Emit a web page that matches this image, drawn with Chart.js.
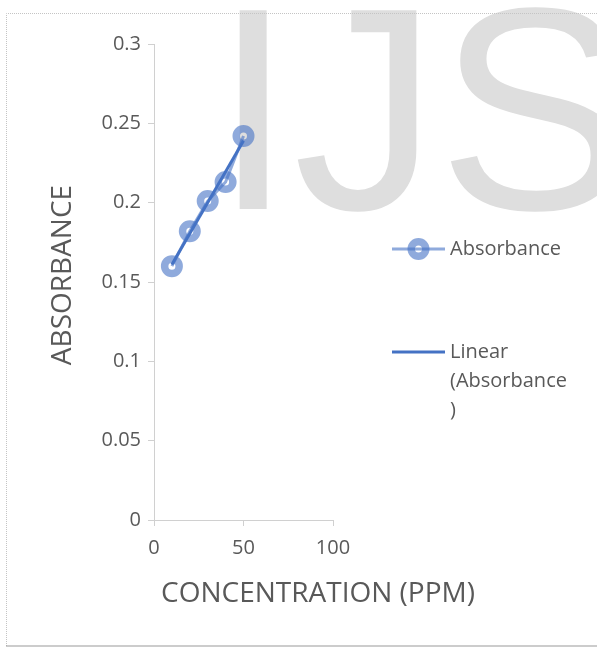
<!DOCTYPE html>
<html>
<head>
<meta charset="utf-8">
<script src="https://cdn.jsdelivr.net/npm/chart.js@4/dist/chart.umd.min.js"></script>
<style>
  html, body { margin: 0; padding: 0; background: #ffffff; }
  #wrap { width: 597px; height: 648px; position: relative; }
</style>
</head>
<body>
<div id="wrap"><canvas id="absorbance-chart" width="597" height="648"></canvas></div>
<script>
const concentration = [10, 20, 30, 40, 50];
const absorbance = [0.160, 0.182, 0.201, 0.213, 0.242];
const trendX = [10, 50];
const trendY = [0.161, 0.239];
const xTicks = [0, 50, 100];
const yTicks = [0, 0.05, 0.1, 0.15, 0.2, 0.25, 0.3];
const seriesName = 'Absorbance';
const trendName = 'Linear (Absorbance)';
const xTitle = 'CONCENTRATION (PPM)';
const yTitle = 'ABSORBANCE';
const watermark = 'IJS';

const textColor = '#595959';
const axisColor = '#d0d0d0';
const pointColor = 'rgba(68, 114, 196, 0.6)';
const trendColor = '#4472C4';
const fontName = '"Open Sans", sans-serif';

function toPoints(xs, ys) {
    return xs.map((x, i) => ({ x: x, y: ys[i] }));
}

// wrap legend text the way the original does (words first, then characters)
function wrapText(ctx, text, maxWidth) {
    const lines = [];
    let current = '';
    text.split(' ').forEach(word => {
        const test = current ? current + ' ' + word : word;
        if (ctx.measureText(test).width <= maxWidth) {
            current = test;
            return;
        }
        if (current) lines.push(current);
        current = '';
        for (const ch of word) {
            if (ctx.measureText(current + ch).width > maxWidth && current) {
                lines.push(current);
                current = ch;
            } else {
                current += ch;
            }
        }
    });
    if (current) lines.push(current);
    return lines;
}

const decorPlugin = {
    id: 'decor',
    beforeDraw(chart) {
        const ctx = chart.ctx;
        ctx.save();
        ctx.fillStyle = '#ffffff';
        ctx.fillRect(0, 0, chart.width, chart.height);
        // background watermark
        ctx.fillStyle = '#dedede';
        ctx.font = '289px "Liberation Sans", Arial, sans-serif';
        ctx.textBaseline = 'alphabetic';
        ctx.textAlign = 'left';
        ctx.fillText(watermark, 213, 209);
        ctx.restore();
    },
    afterDraw(chart) {
        const ctx = chart.ctx;
        ctx.save();

        // dotted frame
        ctx.lineWidth = 1;
        ctx.setLineDash([1, 1]);
        ctx.strokeStyle = '#c4c4c4';
        ctx.beginPath();
        ctx.moveTo(chart.width, 13.5);
        ctx.lineTo(6.5, 13.5);
        ctx.lineTo(6.5, 646);
        ctx.stroke();
        ctx.strokeStyle = '#9a9a9a';
        ctx.lineWidth = 2;
        ctx.beginPath();
        ctx.moveTo(6.5, 646);
        ctx.lineTo(chart.width, 646);
        ctx.stroke();
        ctx.setLineDash([]);

        // axis titles
        ctx.fillStyle = textColor;
        ctx.font = '28px ' + fontName;
        ctx.textAlign = 'center';
        ctx.textBaseline = 'middle';
        ctx.fillText(xTitle, 318, 594);
        ctx.save();
        ctx.translate(63, 275);
        ctx.rotate(-Math.PI / 2);
        ctx.fillText(yTitle, 0, 0);
        ctx.restore();

        // legend
        ctx.font = '20px ' + fontName;
        ctx.textAlign = 'left';
        const legendY = [249, 352];
        chart.data.datasets.forEach((ds, i) => {
            const y = legendY[i];
            ctx.strokeStyle = ds.borderColor;
            ctx.lineWidth = 3;
            ctx.beginPath();
            ctx.moveTo(392, y);
            ctx.lineTo(445, y);
            ctx.stroke();
            if (ds.pointRadius > 0) {
                ctx.strokeStyle = ds.pointBorderColor;
                ctx.lineWidth = ds.pointBorderWidth;
                ctx.beginPath();
                ctx.arc(418.5, y, ds.pointRadius, 0, Math.PI * 2);
                ctx.stroke();
            }
            ctx.fillStyle = textColor;
            wrapText(ctx, ds.label, 120).forEach((line, j) => {
                ctx.fillText(line, 450, y + j * 29);
            });
        });
        ctx.restore();
    }
};

new Chart(document.getElementById('absorbance-chart'), {
    type: 'scatter',
    data: {
        datasets: [
            {
                label: seriesName,
                data: toPoints(concentration, absorbance),
                showLine: true,
                borderColor: pointColor,
                borderWidth: 3,
                pointRadius: 7.25,
                pointBorderWidth: 7.5,
                pointBorderColor: pointColor,
                pointBackgroundColor: 'rgba(0,0,0,0)',
                order: 1
            },
            {
                label: trendName,
                data: toPoints(trendX, trendY),
                showLine: true,
                borderColor: trendColor,
                borderWidth: 3,
                pointRadius: 0,
                order: 0
            }
        ]
    },
    options: {
        responsive: false,
        animation: false,
        layout: { padding: { top: 44, right: 264, left: 0, bottom: 0 } },
        plugins: {
            legend: { display: false },
            tooltip: { enabled: false }
        },
        scales: {
            x: {
                type: 'linear',
                min: 0,
                max: 100,
                afterFit: scale => { scale.height = 128; },
                afterBuildTicks: scale => { scale.ticks = xTicks.map(v => ({ value: v })); },
                grid: { drawOnChartArea: false, tickLength: 6, color: axisColor },
                border: { color: axisColor },
                ticks: {
                    color: textColor,
                    font: { family: fontName, size: 20 },
                    padding: 10,
                    maxRotation: 0
                }
            },
            y: {
                type: 'linear',
                min: 0,
                max: 0.3,
                afterFit: scale => { scale.width = 154; },
                afterBuildTicks: scale => { scale.ticks = yTicks.map(v => ({ value: v })); },
                grid: { drawOnChartArea: false, tickLength: 6, color: axisColor },
                border: { color: axisColor },
                ticks: {
                    color: textColor,
                    font: { family: fontName, size: 20 },
                    padding: 7,
                    callback: value => String(+value.toFixed(2))
                }
            }
        }
    },
    plugins: [decorPlugin]
});
</script>
</body>
</html>
